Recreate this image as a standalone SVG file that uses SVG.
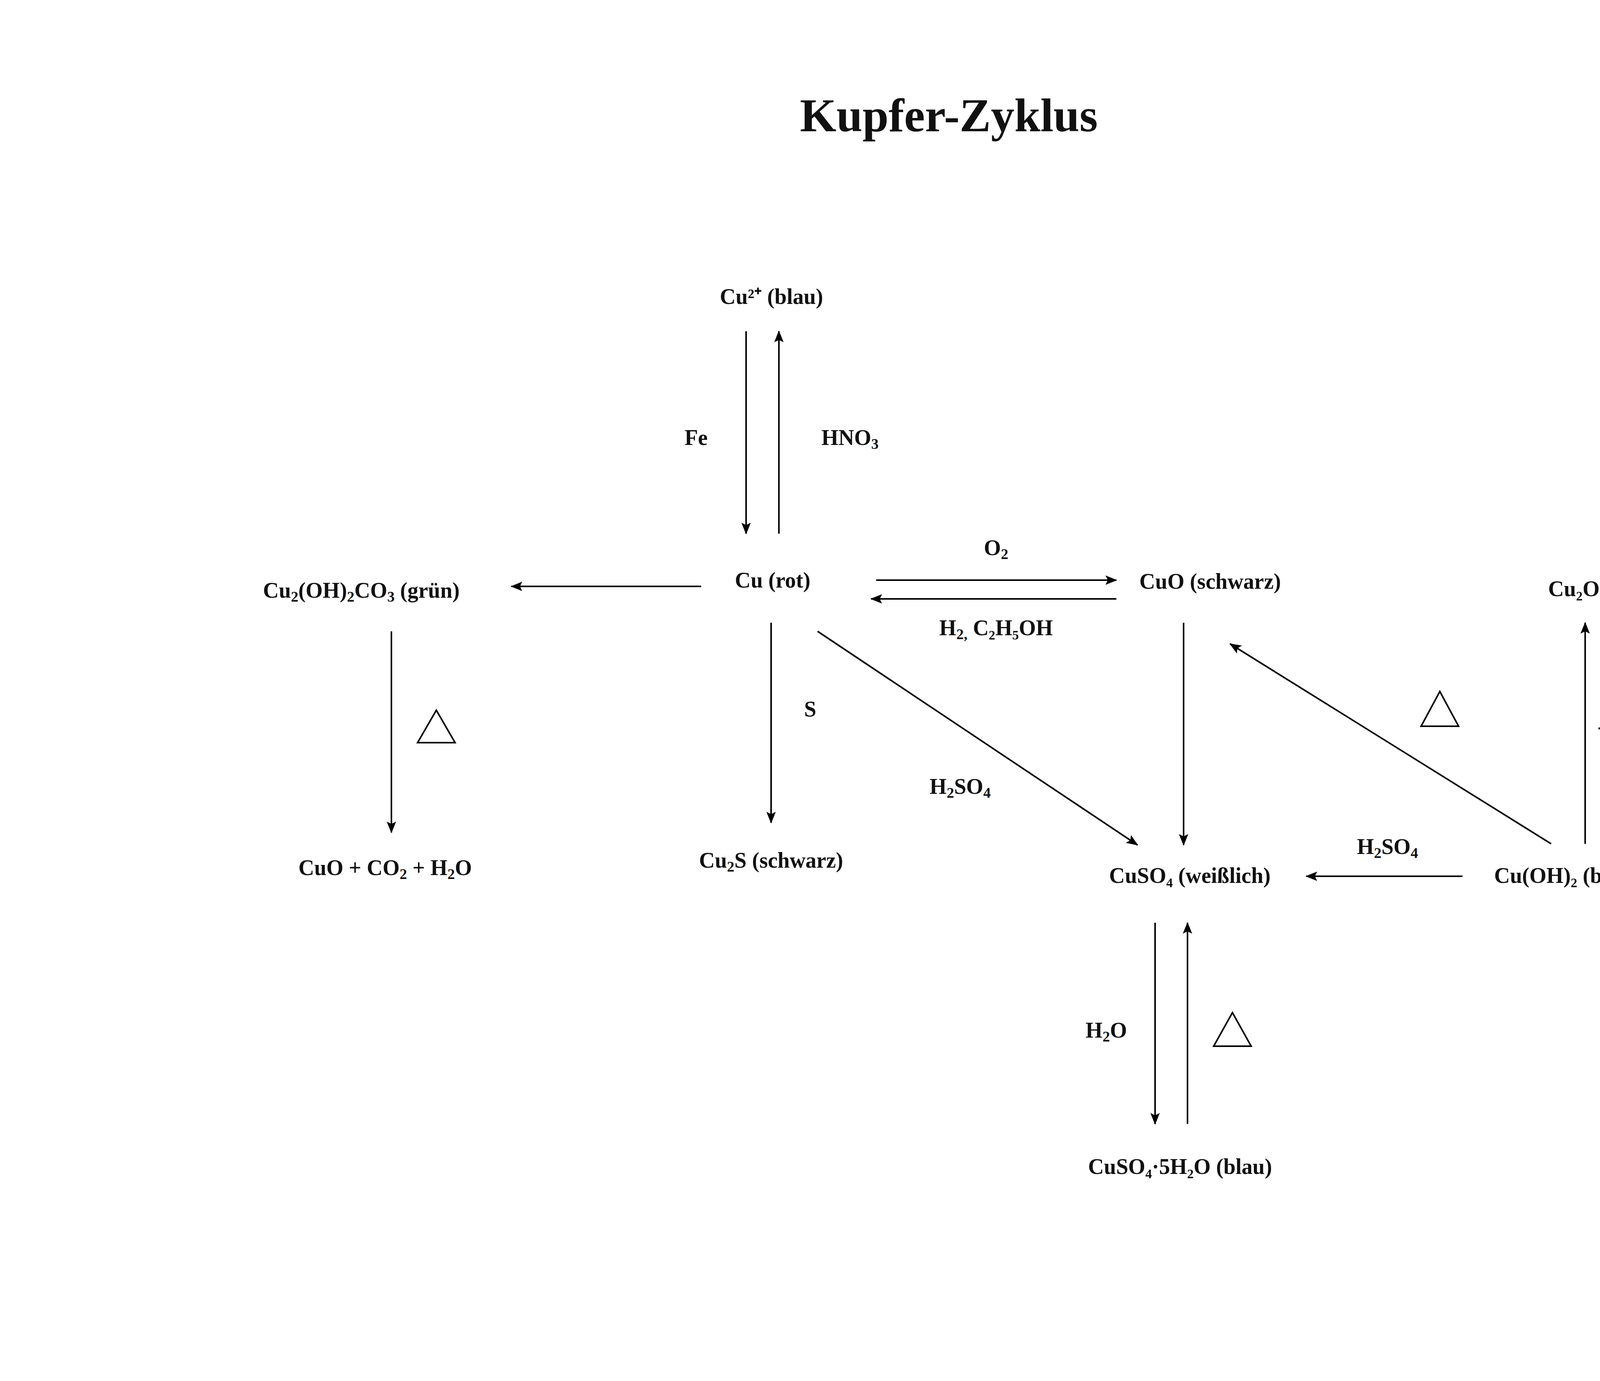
<svg xmlns="http://www.w3.org/2000/svg" width="5000" height="3535" viewBox="0 0 5000 3535">
<defs>
<style>
text{font-family:"Liberation Serif","Times New Roman",serif;font-weight:bold;fill:#111;font-size:56px;text-anchor:middle}
.t{font-size:120px}
.l{text-anchor:start}
line{stroke:#000;stroke-width:4}
.tri{fill:none;stroke:#000;stroke-width:4}
</style>
<marker id="a" markerUnits="userSpaceOnUse" markerWidth="30" markerHeight="24" refX="28" refY="12" orient="auto"><path d="M0,0 L30,12 L0,24 L6,12 z" fill="#000"/></marker>
</defs>
<rect width="5000" height="3535" fill="#fff"/>
<text class="t" x="2429" y="336">Kupfer-Zyklus</text>
<g id="cu2plus"><text x="1975" y="778">Cu²⁺ (blau)</text></g>
<g id="cu"><text x="1978" y="1504">Cu (rot)</text></g>
<g id="cuo"><text x="3098" y="1507">CuO (schwarz)</text></g>
<g id="cu2o"><text x="4090" y="1526">Cu₂O (rot)</text></g>
<g id="malachit"><text x="925" y="1530">Cu<tspan dy="10" font-size="38">2</tspan><tspan dy="-10">(OH)</tspan><tspan dy="10" font-size="38">2</tspan><tspan dy="-10">CO</tspan><tspan dy="10" font-size="38">3</tspan><tspan dy="-10"> (grün)</tspan></text></g>
<g id="prod"><text x="986" y="2240">CuO + CO<tspan dy="10" font-size="38">2</tspan><tspan dy="-10"> + H</tspan><tspan dy="10" font-size="38">2</tspan><tspan dy="-10">O</tspan></text></g>
<g id="cu2s"><text x="1974" y="2221">Cu<tspan dy="10" font-size="38">2</tspan><tspan dy="-10">S (schwarz)</tspan></text></g>
<g id="cuso4"><text x="3046" y="2260">CuSO₄ (weißlich)</text></g>
<g id="cuoh2"><text x="4010" y="2260">Cu(OH)₂ (blau)</text></g>
<g id="cuso4h2o"><text x="3021" y="3005">CuSO₄·5H₂O (blau)</text></g>
<g id="connectors">
<line x1="1910" y1="848" x2="1910" y2="1366" marker-end="url(#a)"/>
<line x1="1994" y1="1366" x2="1994" y2="848" marker-end="url(#a)"/>
<line x1="2243" y1="1485" x2="2858" y2="1485" marker-end="url(#a)"/>
<line x1="2858" y1="1533" x2="2230" y2="1533" marker-end="url(#a)"/>
<line x1="1795" y1="1501" x2="1309" y2="1501" marker-end="url(#a)"/>
<line x1="1002" y1="1616" x2="1002" y2="2131" marker-end="url(#a)"/>
<line x1="1974" y1="1594" x2="1974" y2="2106" marker-end="url(#a)"/>
<line x1="2093" y1="1616" x2="2912" y2="2163" marker-end="url(#a)"/>
<line x1="3030" y1="1594" x2="3030" y2="2163" marker-end="url(#a)"/>
<line x1="3971" y1="2160" x2="3149" y2="1648" marker-end="url(#a)"/>
<line x1="4058" y1="2160" x2="4058" y2="1594" marker-end="url(#a)"/>
<line x1="3744" y1="2243" x2="3344" y2="2243" marker-end="url(#a)"/>
<line x1="2957" y1="2362" x2="2957" y2="2877" marker-end="url(#a)"/>
<line x1="3040" y1="2877" x2="3040" y2="2362" marker-end="url(#a)"/>
<text x="1782" y="1139">Fe</text>
<text x="2176" y="1139">HNO<tspan dy="10" font-size="38">3</tspan></text>
<text x="2550" y="1421">O<tspan dy="10" font-size="38">2</tspan></text>
<text x="2550" y="1626">H<tspan dy="10" font-size="38">2,</tspan><tspan dy="-10"> C₂H₅OH</tspan></text>
<text x="2074" y="1834">S</text>
<text x="2458" y="2032">H<tspan dy="10" font-size="38">2</tspan><tspan dy="-10">SO</tspan><tspan dy="10" font-size="38">4</tspan></text>
<text x="3552" y="2186">H<tspan dy="10" font-size="38">2</tspan><tspan dy="-10">SO</tspan><tspan dy="10" font-size="38">4</tspan></text>
<text class="l" x="4090" y="1878">-CHO (Aldehyd-Gruppe)</text>
<text x="2832" y="2656">H<tspan dy="10" font-size="38">2</tspan><tspan dy="-10">O</tspan></text>
<polygon class="tri" points="1117,1818 1165,1901 1069,1901"/>
<polygon class="tri" points="3686,1770 3734,1859 3638,1859"/>
<polygon class="tri" points="3155,2592 3203,2678 3107,2678"/>
</g>
</svg>
